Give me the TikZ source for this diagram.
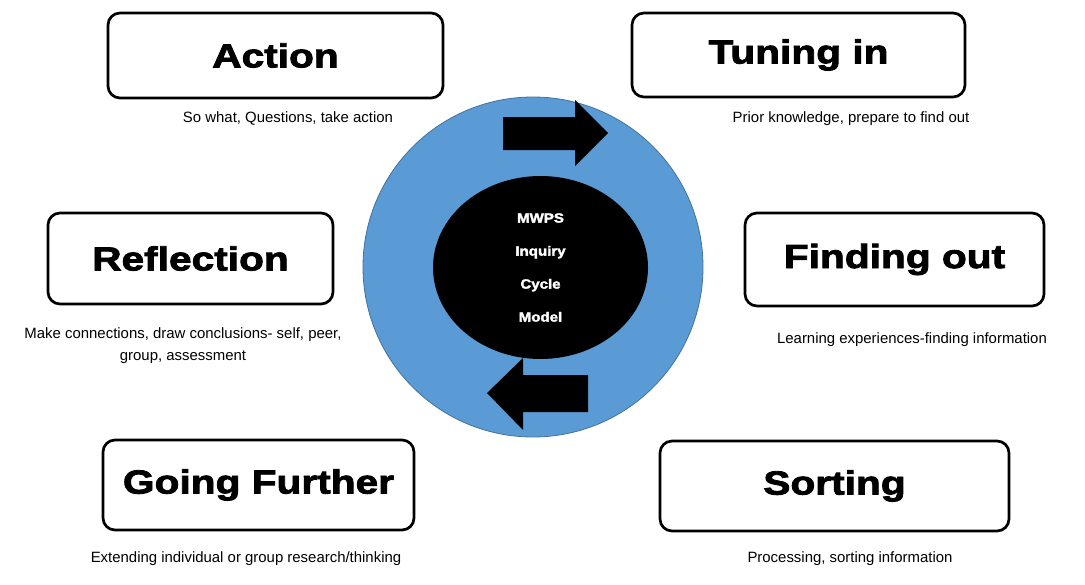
\documentclass[tikz,border=0pt]{standalone}
\usepackage{fontspec}
\usetikzlibrary{shapes.geometric}
\newfontfamily\titlefont{Liberation Sans}[FakeStretch=1.22,FakeBold=2.5]
\newfontfamily\corefont{Liberation Sans}[FakeStretch=1.13,FakeBold=2.5]
\newfontfamily\descfont{Liberation Sans}
\definecolor{ringblue}{RGB}{91,155,213}
\definecolor{ringedge}{RGB}{65,113,156}
\tikzset{
  stagebox/.style={draw=black, line width=2pt, rounded corners=9pt, fill=white,
    font=\titlefont\bfseries\fontsize{25}{28}\selectfont, inner sep=0pt},
  desc/.style={font=\descfont\fontsize{11.2}{16.5}\selectfont, align=center, inner sep=0pt},
  blockarrow/.style={fill=black, draw=none}
}
\begin{document}
\begin{tikzpicture}[x=0.75pt,y=-0.75pt]
\useasboundingbox (0,0) rectangle (1085,585);
% central ring and core
\node (ring) [circle, fill=ringblue, draw=ringedge, line width=0.6pt, minimum size=255pt, inner sep=0pt] at (533,267) {};
\node (core) [ellipse, fill=black, minimum width=161.25pt, minimum height=137.25pt, inner sep=0pt,
  text=white, align=center, font=\corefont\bfseries\fontsize{10}{24.75}\selectfont] at (540.5,267.5)
  {MWPS\\Inquiry\\Cycle\\Model};
% block arrows
\fill[blockarrow] (503,117) -- (575,117) -- (575,100) -- (608,133) -- (575,166) -- (575,150) -- (503,150) -- cycle;
\fill[blockarrow] (588,375) -- (523,375) -- (523,358) -- (487,393) -- (523,430) -- (523,412) -- (588,412) -- cycle;
% stage boxes
\node (action) [stagebox, minimum width=251.25pt, minimum height=63.75pt] at (275.5,55.5) {Action};
\node (tuning) [stagebox, minimum width=249.75pt, minimum height=63pt] at (798.5,55) {Tuning in};
\node (reflection) [stagebox, minimum width=213.75pt, minimum height=68.25pt] at (190.5,258.5) {Reflection};
\node (finding) [stagebox, minimum width=224.25pt, minimum height=69.75pt] at (894.5,259.5) {Finding out};
\node (further) [stagebox, minimum width=233.25pt, minimum height=67.5pt] at (258.5,485) {Going Further};
\node (sorting) [stagebox, minimum width=261.75pt, minimum height=67.5pt] at (834.5,486) {Sorting};
% descriptions
\node (dact) [desc] at (288,119) {So what, Questions, take action};
\node (dtun) [desc] at (851,119) {Prior knowledge, prepare to find out};
\node (dref) [desc] at (183,346) {Make connections, draw conclusions- self, peer,\\group, assessment};
\node (dfin) [desc] at (912,340) {Learning experiences-finding information};
\node (dfur) [desc] at (246,559) {Extending individual or group research/thinking};
\node (dsor) [desc] at (850,559) {Processing, sorting information};
\end{tikzpicture}
\end{document}
